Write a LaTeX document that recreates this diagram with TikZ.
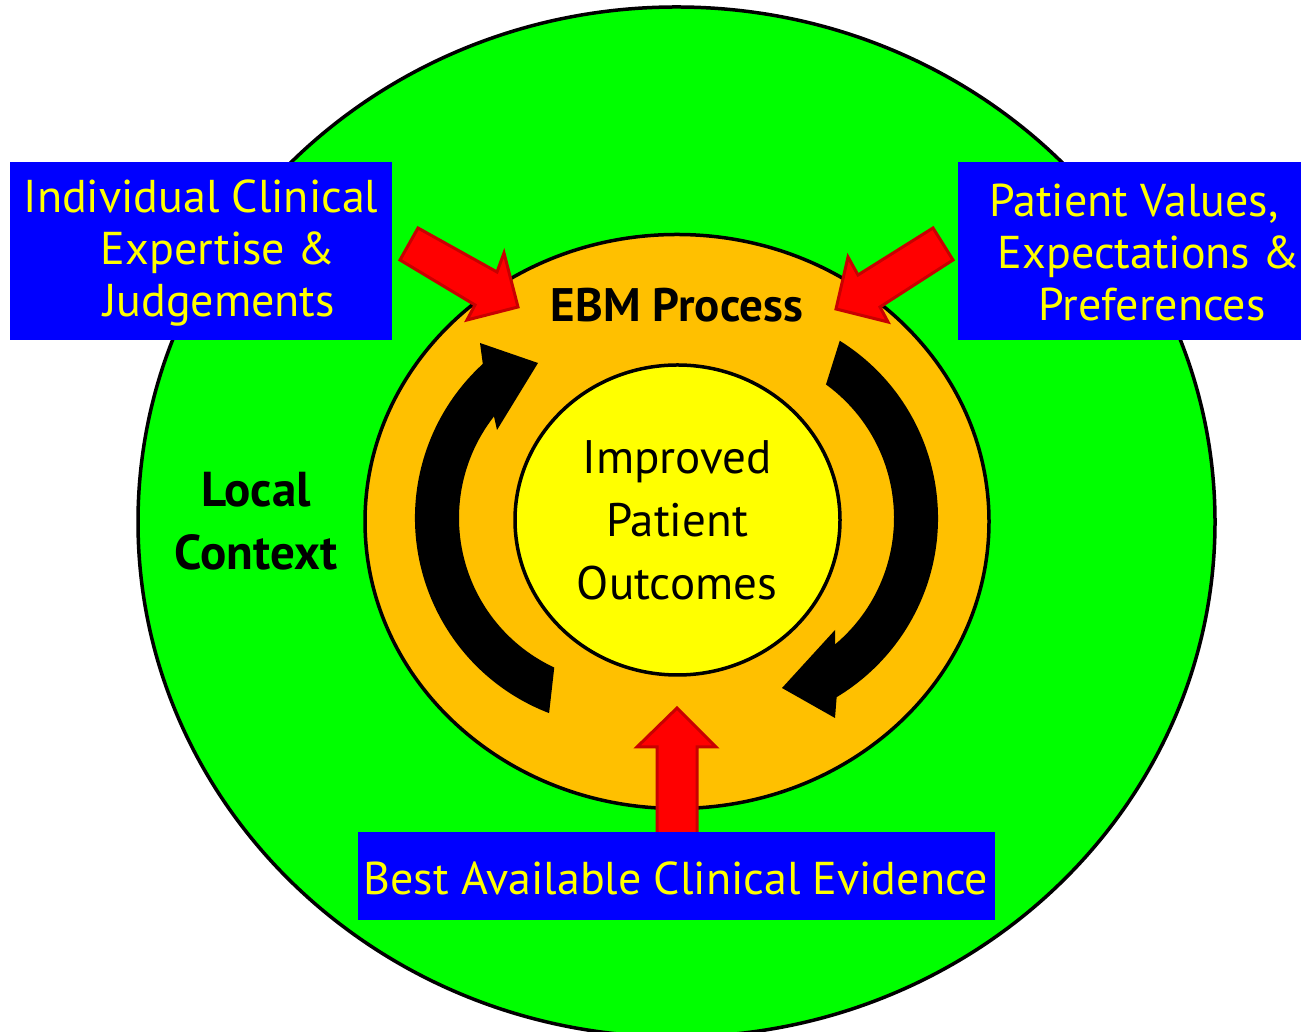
\documentclass[tikz,border=0pt]{standalone}
\usepackage{fontspec}
\setmainfont{PT Sans}
\usetikzlibrary{calc,shapes.geometric}
\definecolor{cgreen}{HTML}{00FF00}
\definecolor{corange}{HTML}{FFC000}
\definecolor{cyellow}{HTML}{FFFF00}
\definecolor{cblue}{HTML}{0000FF}
\definecolor{cred}{HTML}{FF0000}
\definecolor{credb}{HTML}{C80000}
\definecolor{ctext}{HTML}{FFFF00}
\tikzset{
  ring/.style={draw=black, line width=3.5pt, inner sep=0pt},
  bluebox/.style={fill=cblue, draw=none, inner sep=0pt},
  boxtext/.style={text=ctext, align=center, font=\fontsize{46}{52}\selectfont, inner sep=0pt},
  redarrow/.style={fill=cred, draw=credb, line width=3pt, line join=miter},
  cyclearrow/.style={fill=black},
  label/.style={text=black, align=center, inner sep=0pt}
}
\begin{document}
\begin{tikzpicture}[x=1pt,y=1pt]
\useasboundingbox (0,0) rectangle (1301,1032);
\clip (0,0) rectangle (1301,1032);
\fill[white] (0,0) rectangle (1301,1032);
% circles
\node[ring, ellipse, fill=cgreen, minimum width=1077pt, minimum height=1030pt] (ctx) at (676.5,510) {};
\node[ring, ellipse, fill=corange, minimum width=624pt, minimum height=574pt] (ebm) at (677,510.5) {};
\node[ring, ellipse, fill=cyellow, minimum width=325pt, minimum height=310pt] (out) at (677.5,512) {};
% cycle arrows
\coordinate (c1) at (624,514);
\coordinate (c2) at (729,514);
\fill[cyclearrow] ($(c1)+(249:209)$) arc[start angle=249, end angle=132.5, radius=209]
  -- (480,689) -- (538,669) -- (497,602) -- ($(c1)+(142:165)$)
  arc[start angle=142, end angle=245, radius=165] -- cycle;
\fill[cyclearrow] ($(c2)+(58:209)$) arc[start angle=58, end angle=-59, radius=209]
  -- (835,314) -- (782,344) -- (835,402) -- ($(c2)+(-50:165)$)
  arc[start angle=-50, end angle=54, radius=165] -- cycle;
% red arrows
\filldraw[redarrow] (418,804) -- (497,760) -- (504,779) -- (518,725) -- (467,712) -- (475,727) -- (400,772) -- cycle;
\filldraw[redarrow] (933,804) -- (858,757) -- (848,775) -- (836,723) -- (888,710) -- (880,725) -- (953,772) -- cycle;
\filldraw[redarrow] (677,324) -- (716,285) -- (697,285) -- (697,196) -- (657,196) -- (657,285) -- (637,285) -- cycle;
% blue boxes
\fill[bluebox] (10,692) rectangle (392,870);
\fill[bluebox] (958,692) rectangle (1310,870);
\fill[bluebox] (358,112) rectangle (995,200);
\node (expert) [boxtext] at (201,779) {Individual Clinical\\\hspace*{34pt}Expertise \&\\\hspace*{36pt}Judgements};
\node (patient) [boxtext] at (1134,779) {Patient Values,\\\hspace*{30pt}Expectations \&\\\hspace*{36pt}Preferences};
\node (evid) [boxtext] at (676,154) {Best Available Clinical Evidence};
% labels
\node (ebmlbl) [label, font=\bfseries\fontsize{47}{52}\selectfont] at (677,727) {EBM Process};
\node (local) [label, font=\bfseries\fontsize{49}{63}\selectfont] at (256,511) {Local\\Context};
\node (impr) [label, font=\fontsize{47}{63}\selectfont] at (677,512) {Improved\\Patient\\Outcomes};
\end{tikzpicture}
\end{document}
